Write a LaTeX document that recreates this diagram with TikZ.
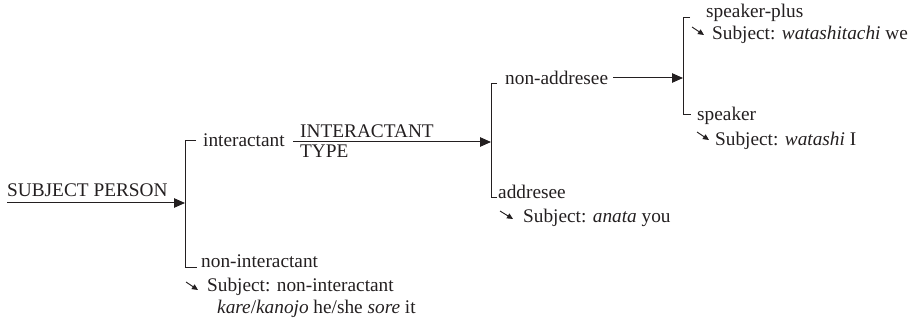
\documentclass[tikz,border=0pt]{standalone}
\usepackage{fontspec}
\setmainfont{Liberation Serif}
\usetikzlibrary{arrows.meta}
\definecolor{ink}{HTML}{231F20}
\begin{document}
\begin{tikzpicture}[x=1pt,y=-1pt,
  lbl/.style={anchor=base west,inner sep=0pt,text=ink,font=\fontsize{19.3}{22}\selectfont},
  ln/.style={line width=1pt,draw=ink},
  bigarr/.style={ln,-{Triangle[length=11pt,width=9.5pt]}},
  smallarr/.style={line width=0.9pt,draw=ink,fill=ink,-{Triangle[length=6pt,width=5.5pt]}}]
\useasboundingbox (0,0) rectangle (908,320);
% level 1
\node[lbl] (sp) at (7,197) {SUBJECT PERSON};
\coordinate (spS) at (7,203);
\coordinate (b1m) at (185,203);
\draw[bigarr] (spS) -- (b1m);
\coordinate (b1tt) at (196,141);
\coordinate (b1t) at (185,141);
\coordinate (b1b) at (185,268);
\coordinate (b1bt) at (197,268);
\draw[ln] (b1tt) -- (b1t) -- (b1b) -- (b1bt);
\node[lbl] (int) at (203,147) {interactant};
\node[lbl] (nint) at (201,268) {non-interactant};
\coordinate (a1s) at (186,282);
\coordinate (a1e) at (198,290);
\draw[smallarr] (a1s) -- (a1e);
\node[lbl] (nints) at (207,292) {Subject: non-interactant};
\node[lbl] (kare) at (217,314) {\textit{kare}/\textit{kanojo} he/she \textit{sore} it};
% level 2
\node[lbl] (it1) at (300,138) {INTERACTANT};
\node[lbl] (it2) at (300,158) {TYPE};
\coordinate (itS) at (293,142);
\coordinate (b2m) at (491,142);
\draw[bigarr] (itS) -- (b2m);
\coordinate (b2tt) at (497,84);
\coordinate (b2t) at (491,84);
\coordinate (b2b) at (491,198);
\coordinate (b2bt) at (497,198);
\draw[ln] (b2tt) -- (b2t) -- (b2b) -- (b2bt);
\node[lbl] (nadd) at (505,85) {non-addresee};
\node[lbl] (add) at (498,199) {addresee};
\coordinate (a2s) at (500,211);
\coordinate (a2e) at (513,219);
\draw[smallarr] (a2s) -- (a2e);
\node[lbl] (adds) at (523,223) {Subject: \textit{anata} you};
% level 3
\coordinate (naS) at (613,78);
\coordinate (b3m) at (683,78);
\draw[bigarr] (naS) -- (b3m);
\coordinate (b3tt) at (690,18);
\coordinate (b3t) at (683,18);
\coordinate (b3b) at (683,115);
\coordinate (b3bt) at (691,115);
\draw[ln] (b3tt) -- (b3t) -- (b3b) -- (b3bt);
\node[lbl] (spp) at (706,18) {speaker-plus};
\coordinate (a3s) at (692,27);
\coordinate (a3e) at (704,35);
\draw[smallarr] (a3s) -- (a3e);
\node[lbl] (spps) at (712,40) {Subject: \textit{watashitachi} we};
\node[lbl] (spk) at (697,121) {speaker};
\coordinate (a4s) at (697,132);
\coordinate (a4e) at (709,140);
\draw[smallarr] (a4s) -- (a4e);
\node[lbl] (spks) at (715,146) {Subject: \textit{watashi} I};
\end{tikzpicture}
\end{document}
